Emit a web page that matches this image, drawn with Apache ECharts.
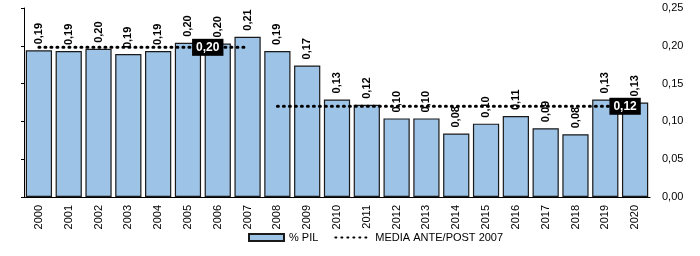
<!DOCTYPE html>
<html>
<head>
<meta charset="utf-8">
<script src="https://cdn.jsdelivr.net/npm/echarts@6/dist/echarts.min.js"></script>
<style>
  html, body { margin: 0; padding: 0; background: #fff; }
  #chart { width: 700px; height: 256px; }
</style>
</head>
<body>
<div id="chart"></div>
<script>
// dati
var anni = ['2000','2001','2002','2003','2004','2005','2006','2007','2008','2009','2010',
            '2011','2012','2013','2014','2015','2016','2017','2018','2019','2020'];
var pil = [0.194,0.193,0.196,0.189,0.193,0.204,0.203,0.212,0.193,0.174,0.129,
           0.122,0.104,0.104,0.084,0.097,0.107,0.091,0.083,0.129,0.125];
var mediaAnte = 0.198;
var mediaPost = 0.12;
var assiTick = [0, 0.05, 0.10, 0.15, 0.20, 0.25];

var FONT = '"Liberation Sans Narrow", "Liberation Sans", Arial, sans-serif';

function virgola(v) {
    return v.toFixed(2).replace('.', ',');
}

var chart = echarts.init(document.getElementById('chart'));

// linee delle medie: ante (2000-2007) e post (2008-2020)
var lineaAnte = anni.map(function (a, i) { return i <= 7 ? mediaAnte : null; });
var lineaPost = anni.map(function (a, i) { return i >= 8 ? mediaPost : null; });

var boxLabel = {
    show: true,
    position: 'inside',
    offset: [-10, 0],
    formatter: function (p) { return virgola(p.value); },
    backgroundColor: '#000',
    color: '#fff',
    fontWeight: 'bold',
    fontSize: 12,
    fontFamily: FONT,
    padding: [3, 4, 2, 4]
};

var dataAnte = lineaAnte.map(function (v, i) {
    if (i === 6) return { value: v, label: boxLabel };
    return v;
});
var dataPost = lineaPost.map(function (v, i) {
    if (i === 20) return { value: v, label: boxLabel };
    return v;
});

var mediaLine = { color: '#000', width: 3, type: [1, 5], cap: 'round' };

var option = {
    animation: false,
    textStyle: { fontFamily: FONT },
    grid: { left: 24, right: 50, top: 8, bottom: 59 },
    legend: {
        bottom: 8,
        left: 243,
        itemGap: 16,
        itemWidth: 35,
        itemHeight: 7,
        textStyle: { fontFamily: FONT, fontSize: 11, color: '#000' },
        data: [
            { name: '% PIL', icon: 'rect' },
            { name: 'MEDIA ANTE/POST 2007', itemStyle: { opacity: 0 } }
        ]
    },
    xAxis: {
        type: 'category',
        data: anni,
        axisLine: { lineStyle: { color: '#000', width: 1 } },
        axisTick: { show: false },
        axisLabel: {
            rotate: 90,
            interval: 0,
            margin: 8,
            color: '#000',
            fontSize: 11,
            fontFamily: FONT
        }
    },
    yAxis: [
        {
            type: 'value',
            min: assiTick[0],
            max: assiTick[assiTick.length - 1],
            interval: 0.05,
            position: 'left',
            axisLine: { show: true, lineStyle: { color: '#000' } },
            axisTick: { show: true, length: 3, lineStyle: { color: '#000' } },
            axisLabel: { show: false },
            splitLine: { show: false }
        },
        {
            type: 'value',
            min: assiTick[0],
            max: assiTick[assiTick.length - 1],
            interval: 0.05,
            position: 'right',
            axisLine: { show: false },
            axisTick: { show: false },
            splitLine: { show: false },
            axisLabel: {
                margin: 12,
                color: '#000',
                fontSize: 11,
                fontFamily: FONT,
                formatter: function (v) { return virgola(v); }
            }
        }
    ],
    series: [
        {
            name: '% PIL',
            type: 'bar',
            data: pil,
            barCategoryGap: '12%',
            itemStyle: { color: '#9dc3e6', borderColor: '#1a1a1a', borderWidth: 1.2 },
            label: {
                show: true,
                position: 'top',
                rotate: 90,
                align: 'left',
                verticalAlign: 'middle',
                distance: 6,
                color: '#000',
                fontWeight: 'bold',
                fontSize: 11,
                fontFamily: FONT,
                formatter: function (p) { return virgola(p.value); }
            },
            z: 2
        },
        {
            name: 'MEDIA ANTE/POST 2007',
            type: 'line',
            data: dataAnte,
            symbol: 'circle',
            symbolSize: 0,
            showSymbol: true,
            lineStyle: mediaLine,
            itemStyle: { color: '#000' },
            z: 5
        },
        {
            name: 'MEDIA ANTE/POST 2007',
            type: 'line',
            data: dataPost,
            symbol: 'circle',
            symbolSize: 0,
            showSymbol: true,
            lineStyle: mediaLine,
            itemStyle: { color: '#000' },
            z: 5
        }
    ]
};

chart.setOption(option);
</script>
</body>
</html>
